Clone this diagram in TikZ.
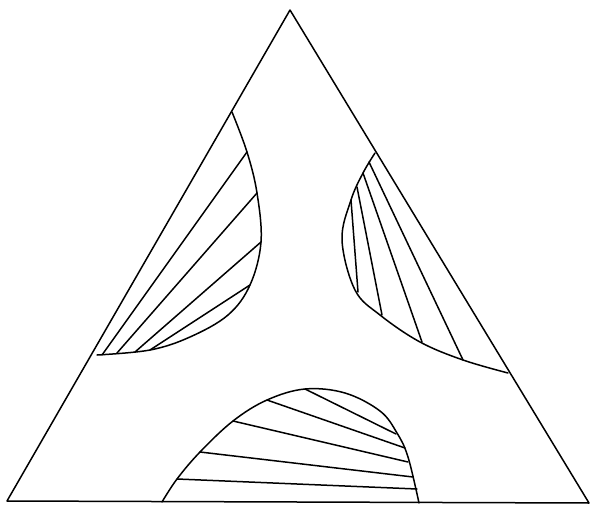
\documentclass[tikz,border=0pt]{standalone}
\begin{document}
\begin{tikzpicture}[x=1pt,y=-1pt,
  ln/.style={line width=1.5pt,line join=round,line cap=round},
  crv/.style={ln,smooth,tension=0.6}]
\useasboundingbox (0,0) rectangle (595,514);
% triangle
\coordinate (A) at (290,10);
\coordinate (L) at (7,501);
\coordinate (R) at (589,503);
\draw[ln] (L) -- (A) -- (R) -- cycle;
% left region
\draw[crv] plot coordinates {(232,112) (247,152) (257,193) (261,242) (250,285) (228,315) (190,337) (150,350) (97,355)};
\draw[ln] (247,152) -- (102,355);
\draw[ln] (257,193) -- (117,353);
\draw[ln] (261,242) -- (135,352);
\draw[ln] (250,285) -- (150,350);
% right region
\draw[crv] plot coordinates {(375,153) (363,173) (351,200) (342,240) (355,290) (380,315) (420,342) (463,360) (508,373)};
\draw[ln] (369,162) -- (463,360);
\draw[ln] (363,173) -- (422,342);
\draw[ln] (357,187) -- (382,315);
\draw[ln] (351,200) -- (358,292);
% bottom region
\draw[crv] plot coordinates {(162,502) (177,479) (200,452) (233,421) (267,400) (305,389) (345,393) (380,411) (397,433) (408,457) (419,503)};
\draw[ln] (305,389) -- (396,434);
\draw[ln] (267,400) -- (405,448);
\draw[ln] (233,421) -- (408,462);
\draw[ln] (200,452) -- (413,477);
\draw[ln] (177,479) -- (417,489);
\end{tikzpicture}
\end{document}
